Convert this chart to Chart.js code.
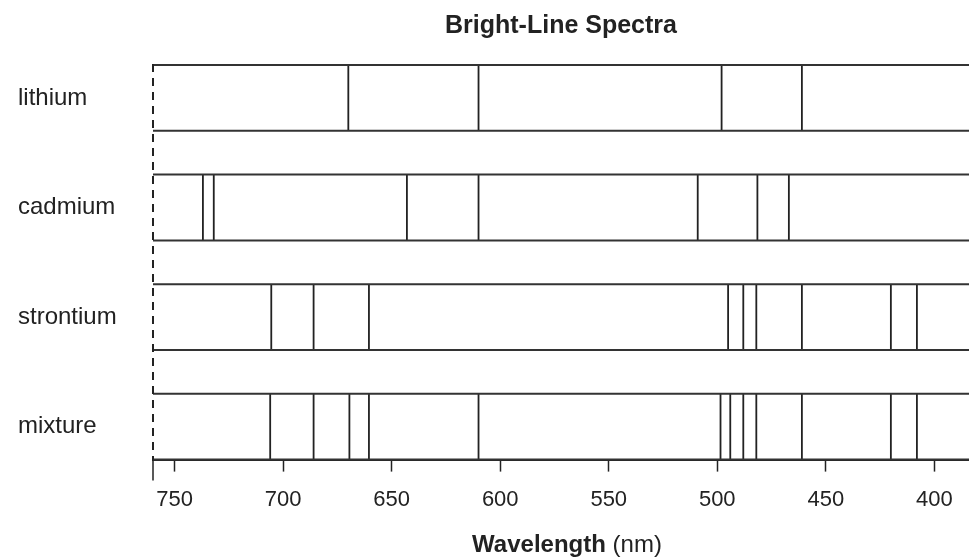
<!DOCTYPE html>
<html>
<head>
<meta charset="utf-8">
<script src="https://cdn.jsdelivr.net/npm/chart.js@4"></script>
<style>
  html, body { margin: 0; padding: 0; background: #fff; }
  #wrap { width: 969px; height: 559px; }
</style>
</head>
<body>
<div id="wrap"><canvas id="spectra"></canvas></div>
<script>
// Rows, top to bottom
const elements = ['lithium', 'cadmium', 'strontium', 'mixture'];

// Bright lines (nm)
const lithiumLines = [670, 610, 498, 461];
const cadmiumLines = [737, 732, 643, 610, 509, 481.5, 467];
const strontiumLines = [705.5, 686, 660.5, 495, 488, 482, 461, 420, 408];
const mixtureLines = [706, 686, 669.5, 660.5, 610, 498.5, 494, 488, 482, 461, 420, 408];

const wavelengthTicks = [750, 700, 650, 600, 550, 500, 450, 400];
const WL_MAX = 760;
const WL_MIN = 384;

const HALF = 0.3; // half height of each strip, in row units
const INK = '#222';
const FONT = "'Liberation Sans', Arial, sans-serif";

const linesByElement = [lithiumLines, cadmiumLines, strontiumLines, mixtureLines];

// row index: lithium on top
function rowOf(i) {
    return elements.length - 1 - i;
}

// vertical segments separated by gaps
function lineSegments(lines, row) {
    const pts = [];
    lines.forEach(w => {
        pts.push({ x: w, y: row - HALF });
        pts.push({ x: w, y: row + HALF });
        pts.push({ x: null, y: null });
    });
    return pts;
}

// top and bottom edges of a strip
function stripEdges(row) {
    return [
        { x: WL_MAX, y: row + HALF }, { x: WL_MIN, y: row + HALF },
        { x: null, y: null },
        { x: WL_MAX, y: row - HALF }, { x: WL_MIN, y: row - HALF }
    ];
}

const datasets = [];
elements.forEach((name, i) => {
    const row = rowOf(i);
    datasets.push({
        label: name + ' strip',
        data: stripEdges(row),
        borderColor: '#333',
        borderWidth: 2,
        clip: false
    });
    datasets.push({
        label: name,
        data: lineSegments(linesByElement[i], row),
        borderColor: INK,
        borderWidth: 1.8,
        clip: false
    });
});

// dashed left axis, long end tick, axis title with bold word + normal unit
const extrasPlugin = {
    id: 'extras',
    afterDraw(chart) {
        const ctx = chart.ctx;
        const area = chart.chartArea;
        ctx.save();
        ctx.strokeStyle = INK;
        ctx.lineWidth = 2;
        ctx.setLineDash([8, 6]);
        ctx.beginPath();
        ctx.moveTo(area.left, area.top - 1);
        ctx.lineTo(area.left, area.bottom);
        ctx.stroke();

        ctx.setLineDash([]);
        ctx.lineWidth = 1.5;
        ctx.beginPath();
        ctx.moveTo(area.left, area.bottom);
        ctx.lineTo(area.left, area.bottom + 21);
        ctx.stroke();

        const boldPart = 'Wavelength';
        const normalPart = ' (nm)';
        ctx.fillStyle = INK;
        ctx.textBaseline = 'middle';
        ctx.font = 'bold 24px ' + FONT;
        const wb = ctx.measureText(boldPart).width;
        ctx.font = '24px ' + FONT;
        const wn = ctx.measureText(normalPart).width;
        const cx = (area.left + area.right) / 2 + 6;
        const x = cx - (wb + wn) / 2;
        const y = 545;
        ctx.textAlign = 'left';
        ctx.font = 'bold 24px ' + FONT;
        ctx.fillText(boldPart, x, y);
        ctx.font = '24px ' + FONT;
        ctx.fillText(normalPart, x + wb, y);
        ctx.restore();
    }
};

new Chart(document.getElementById('spectra').getContext('2d'), {
    type: 'scatter',
    data: { datasets: datasets },
    options: {
        responsive: true,
        maintainAspectRatio: false,
        animation: false,
        showLine: true,
        spanGaps: false,
        elements: { point: { radius: 0, hoverRadius: 0 } },
        layout: { padding: { left: 18, right: 0, top: 2, bottom: 31 } },
        plugins: {
            legend: { display: false },
            tooltip: { enabled: false },
            title: {
                display: true,
                text: 'Bright-Line Spectra',
                fullSize: false,
                color: INK,
                font: { family: FONT, size: 25, weight: 'bold' },
                padding: { top: 9, bottom: 24 }
            }
        },
        scales: {
            x: {
                type: 'linear',
                reverse: true,
                min: WL_MIN,
                max: WL_MAX,
                afterBuildTicks: scale => {
                    scale.ticks = wavelengthTicks.map(v => ({ value: v }));
                },
                ticks: {
                    color: INK,
                    font: { family: FONT, size: 22 },
                    padding: 15,
                    maxRotation: 0,
                    autoSkip: false
                },
                grid: {
                    drawOnChartArea: false,
                    drawTicks: true,
                    tickLength: 12,
                    tickWidth: 1.5,
                    tickColor: INK
                },
                border: { display: true, color: INK, width: 2 }
            },
            y: {
                type: 'linear',
                min: -HALF,
                max: elements.length - 1 + HALF,
                afterBuildTicks: scale => {
                    scale.ticks = elements.map((_, i) => ({ value: rowOf(i) }));
                },
                afterFit: scale => {
                    scale.width = 135;
                },
                ticks: {
                    color: INK,
                    font: { family: FONT, size: 24 },
                    crossAlign: 'far',
                    callback: value => elements[elements.length - 1 - value]
                },
                grid: { display: false },
                border: { display: false }
            }
        }
    },
    plugins: [extrasPlugin]
});
</script>
</body>
</html>
